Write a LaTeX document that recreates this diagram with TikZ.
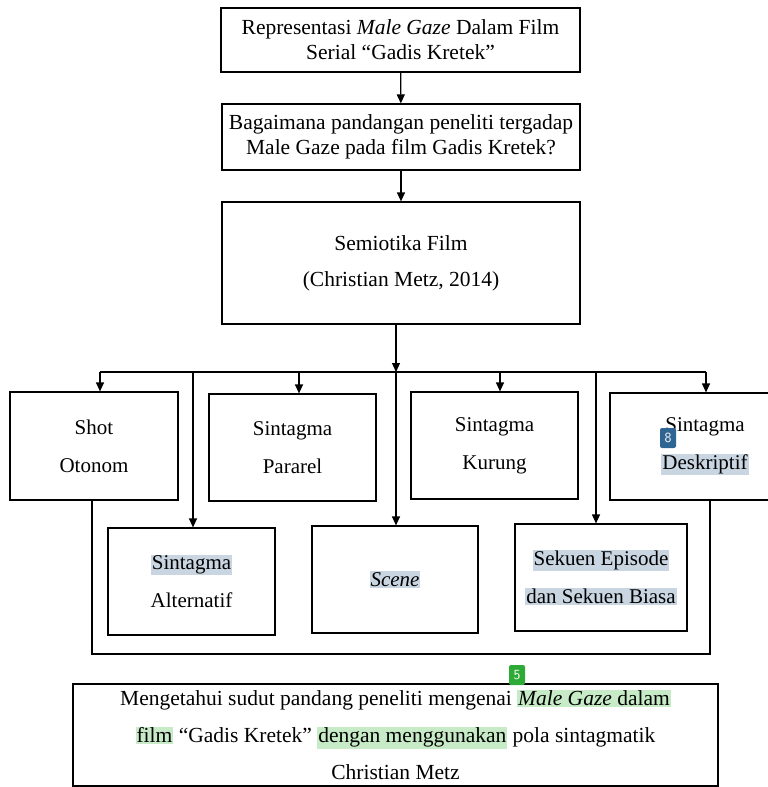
\documentclass[tikz,border=0pt]{standalone}
\usepackage{fontspec}
\setmainfont{Liberation Serif}
\usetikzlibrary{arrows.meta}
\definecolor{hlblue}{HTML}{C9D6E2}
\definecolor{hlgreen}{HTML}{C6EBC6}
\definecolor{tagblue}{HTML}{2F6592}
\definecolor{taggreen}{HTML}{2EAA36}
\newcommand{\hlb}[1]{{\setlength{\fboxsep}{1pt}\colorbox{hlblue}{#1}}}
\newcommand{\hlg}[1]{{\setlength{\fboxsep}{1pt}\colorbox{hlgreen}{#1}}}
\tikzset{
  box/.style={draw, line width=1.2pt, align=center, inner sep=0pt, font=\fontsize{21}{38}\selectfont},
  arr/.style={-{Triangle[length=9pt,width=8pt]}, line width=1.2pt},
  tag/.style={fill=#1, rounded corners=2pt, text=white, inner sep=0pt,
    minimum width=16pt, minimum height=20pt, font=\sffamily\fontsize{14}{14}\selectfont}
}

\begin{document}
\begin{tikzpicture}[x=1pt, y=-1pt]
			%%%%% START %%%%%
			\useasboundingbox (0,0) rectangle (768,787);
			
			\node[box, minimum width=359pt, minimum height=64pt, font=\fontsize{21.5}{25}\selectfont] (title) at (400.5,40)
			  {Representasi \textit{Male Gaze} Dalam Film\\Serial ``Gadis Kretek''};
			\node[box, minimum width=358pt, minimum height=66pt, font=\fontsize{21.5}{25}\selectfont] (quest) at (401,137)
			  {Bagaimana pandangan peneliti tergadap\\Male Gaze pada film Gadis Kretek?};
			\node[box, minimum width=358pt, minimum height=122pt, font=\fontsize{21.5}{36}\selectfont] (semio) at (401,263)
			  {Semiotika Film\\(Christian Metz, 2014)};
			
			\draw[arr] (title) -- (quest);
			\draw[arr] (quest) -- (semio);
			
			% upper row
			\node[box, minimum width=168pt, minimum height=108pt] (shot) at (94,446) {Shot\\Otonom};
			\node[box, minimum width=167pt, minimum height=107pt] (pararel) at (292.5,447.5) {Sintagma\\Pararel};
			\node[box, minimum width=167pt, minimum height=107pt] (kurung) at (494.5,445.5) {Sintagma\\Kurung};
			\node[box, minimum width=190pt, minimum height=107pt] (deskr) at (705,446.5) {Sintagma\\\hlb{Deskriptif}};
			
			% lower row
			\node[box, minimum width=167pt, minimum height=107pt] (alter) at (191.5,581.5) {\hlb{Sintagma}\\Alternatif};
			\node[box, minimum width=166pt, minimum height=107pt] (scene) at (395,579.5) {\hlb{\textit{Scene}}};
			\node[box, minimum width=172pt, minimum height=107pt] (sekuen) at (601,577.5) {\hlb{Sekuen Episode}\\\hlb{dan Sekuen Biasa}};
			
			\node[box, minimum width=645pt, minimum height=102pt, font=\fontsize{21.5}{37}\selectfont] (goal) at (395.5,735)
			  {Mengetahui sudut pandang peneliti mengenai \hlg{\textit{Male Gaze} dalam}\\
			   \hlg{film} ``Gadis Kretek'' \hlg{dengan menggunakan} pola sintagmatik\\
			   Christian Metz};
			
			% branching
			\coordinate (split) at (396,372);
			\coordinate (b1) at (100,372);
			\coordinate (b2) at (193,372);
			\coordinate (b3) at (299,372);
			\coordinate (b5) at (500,372);
			\coordinate (b6) at (596,372);
			\coordinate (b7) at (706,372);
			
			\draw[arr] (semio.south -| split) -- (split);
			\draw[line width=1.2pt] (b1) -- (b7);
			\draw[arr] (b1) -- (b1 |- shot.north);
			\draw[arr] (b3) -- (b3 |- pararel.north);
			\draw[arr] (b5) -- (b5 |- kurung.north);
			\draw[arr] (b7) -- (b7 |- deskr.north);
			\draw[arr] (b2) -- (b2 |- alter.north);
			\draw[arr] (split) -- (split |- scene.north);
			\draw[arr] (b6) -- (b6 |- sekuen.north);
			
			% bottom bracket
			\coordinate (c1) at (92,654);
			\coordinate (c2) at (710,654);
			\draw[line width=1.2pt] (c1 |- shot.south) -- (c1) -- (c2) -- (c2 |- deskr.south);
			
			% tags
			\node[tag=tagblue] (tag8) at (668,438) {8};
			\node[tag=taggreen] (tag5) at (517,675) {5};
			%%%%% END %%%%%
\end{tikzpicture}
\end{document}
